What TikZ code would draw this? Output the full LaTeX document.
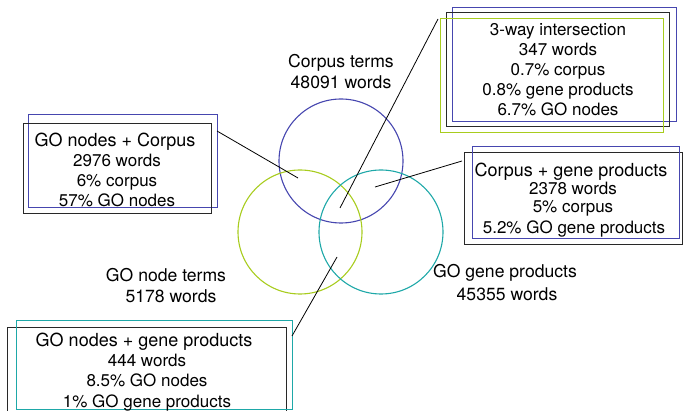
\documentclass[tikz,border=0pt]{standalone}
\usepackage{fontspec}
\setmainfont{TeX Gyre Heros}
\definecolor{cblue}{RGB}{70,70,175}
\definecolor{cgreen}{RGB}{168,204,30}
\definecolor{cteal}{RGB}{30,168,168}
\definecolor{cblk}{RGB}{40,40,40}
\begin{document}
\begin{tikzpicture}[x=1pt,y=-1pt,
  txt/.style={anchor=base,inner sep=0pt,font=\fontsize{17}{20}\selectfont},
  ttl/.style={anchor=base,inner sep=0pt,font=\fontsize{18}{20}\selectfont},
  lbl/.style={anchor=base,inner sep=0pt,font=\fontsize{17.6}{20}\selectfont},
  frame/.style={line width=0.9pt},
  ring/.style={line width=1.1pt},
  lead/.style={line width=0.8pt,draw=black}]
\useasboundingbox (0,0) rectangle (683,411);
% circles
\draw[ring,cblue] (341,161) circle (62);
\draw[ring,cgreen] (300,232) circle (62);
\draw[ring,cteal] (381,232) circle (62);
% circle labels
\node[lbl] (lc1) at (341,68) {Corpus terms};
\node[lbl] (lc2) at (341,89) {48091 words};
\node[lbl] (lg1) at (166,282) {GO node terms};
\node[lbl] (lg2) at (171,303) {5178 words};
\node[lbl] (lt1) at (505,278) {GO gene products};
\node[lbl] (lt2) at (507,301) {45355 words};
% 3-way box
\draw[frame,cblue] (452,7) rectangle (676,121);
\draw[frame,cblk] (446,12) rectangle (669,126);
\draw[frame,cgreen] (440,18) rectangle (663,132);
\node[txt] (a1) at (558,36) {3-way intersection};
\node[txt] (a2) at (558,56) {347 words};
\node[txt] (a3) at (558,76) {0.7\% corpus};
\node[txt] (a4) at (558,96) {0.8\% gene products};
\node[txt] (a5) at (558,116) {6.7\% GO nodes};
% GO nodes + Corpus box
\draw[frame,cblue] (28,114) rectangle (217,207);
\draw[frame,cblk] (23,123) rectangle (211,213);
\node[ttl] (b1) at (115,147) {GO nodes + Corpus};
\node[txt] (b2) at (117,167) {2976 words};
\node[txt] (b3) at (117,187) {6\% corpus};
\node[txt] (b4) at (117,207) {57\% GO nodes};
% Corpus + gene products box
\draw[frame,cblk] (464,152) rectangle (682,244);
\draw[frame,cblue] (472,146) rectangle (679,238);
\node[ttl] (c1) at (571,177) {Corpus + gene products};
\node[txt] (c2) at (573,195) {2378 words};
\node[txt] (c3) at (573,213) {5\% corpus};
\node[txt] (c4) at (574,234) {5.2\% GO gene products};
% GO nodes + gene products box
\draw[frame,cblk] (7,327) rectangle (286,420);
\draw[frame,cteal] (16,320) rectangle (292,409);
\node[ttl] (d1) at (144,347) {GO nodes + gene products};
\node[txt] (d2) at (147,367) {444 words};
\node[txt] (d3) at (147,387) {8.5\% GO nodes};
\node[txt] (d4) at (147,408) {1\% GO gene products};
% leader lines
\coordinate (p1) at (298,178); \coordinate (q1) at (217,131);
\coordinate (p2) at (340,208); \coordinate (q2) at (438,19);
\coordinate (p3) at (375,187); \coordinate (q3) at (462,161);
\coordinate (p4) at (337,257); \coordinate (q4) at (292,336);
\draw[lead] (p1) -- (q1);
\draw[lead] (p2) -- (q2);
\draw[lead] (p3) -- (q3);
\draw[lead] (p4) -- (q4);
\end{tikzpicture}
\end{document}
